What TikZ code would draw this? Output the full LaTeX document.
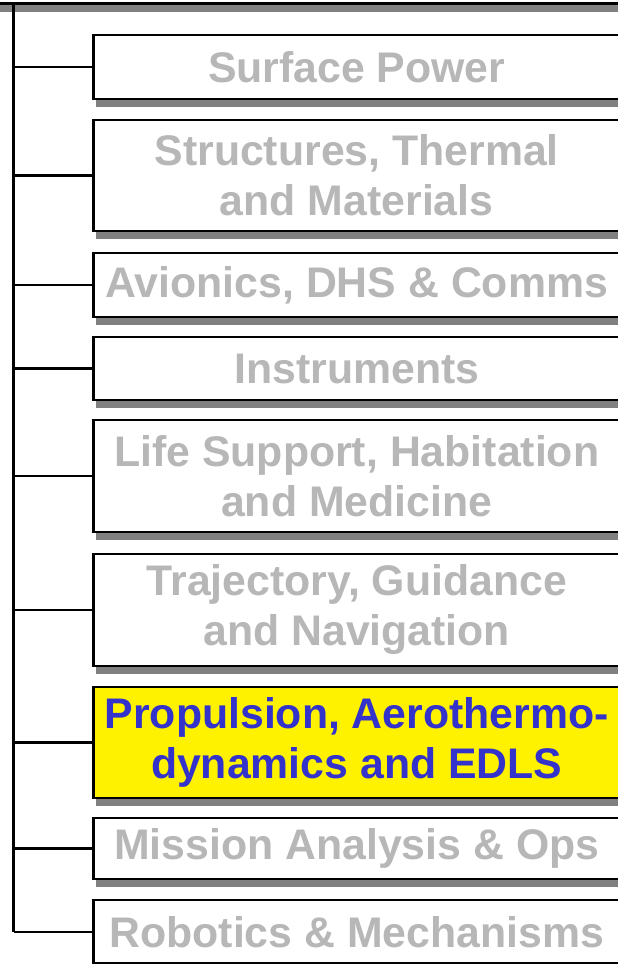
\documentclass[tikz,border=0pt]{standalone}
\usepackage{fontspec}
\setmainfont{Liberation Sans}
\usetikzlibrary{shadows}
\definecolor{txtgray}{RGB}{183,183,183}
\definecolor{shadowgray}{RGB}{128,128,128}
\definecolor{hiblue}{RGB}{51,51,204}
\begin{document}
\begin{tikzpicture}[x=1pt,y=-1pt,
  unit/.style={draw=black, line width=2.4pt, fill=white, rectangle, inner sep=0pt, outer sep=0pt,
    anchor=north west, minimum width=526.5pt, align=center, text=txtgray,
    font=\fontsize{42.8}{50}\selectfont\bfseries,
    drop shadow={shadow xshift=2pt, shadow yshift=-8pt, fill=shadowgray, opacity=1}},
  hilite/.style={fill=yellow, text=hiblue},
  link/.style={draw=black, line width=2.2pt}]
\useasboundingbox (0,0) rectangle (618,964);
\clip (0,0) rectangle (618,964);

\node[unit, minimum width=700pt, minimum height=100pt, anchor=south west] (top) at (-40,3.5) {};

\node[unit, minimum height=64pt]  (b1) at (93.5,35)  {Surface Power};
\node[unit, minimum height=111pt] (b2) at (93.5,120) {Structures, Thermal\\and Materials};
\node[unit, minimum height=64pt]  (b3) at (93.5,253) {Avionics, DHS \& Comms};
\node[unit, minimum height=63pt]  (b4) at (93.5,337) {Instruments};
\node[unit, minimum height=112pt] (b5) at (93.5,420) {Life Support, Habitation\\and Medicine};
\node[unit, minimum height=112pt] (b6) at (93.5,554) {Trajectory, Guidance\\and Navigation};
\node[unit, hilite, minimum height=111pt] (b7) at (93.5,687) {Propulsion, Aerothermo-\\dynamics and EDLS};
\node[unit, minimum height=61pt]  (b8) at (93.5,818) {Mission Analysis \& Ops};
\node[unit, minimum height=63.5pt] (b9) at (93.5,900) {Robotics \& Mechanisms};

\coordinate (trtop) at (13.5,3.5);
\coordinate (trbot) at (13.5,932);
\draw[link, line width=2.8pt] (trtop) -- (trtop |- b8.west);
\draw[link] (trtop |- b8.west) -- (trbot);
\foreach \b in {b1,b2,b3,b4,b5,b6,b7,b8,b9}
  \draw[link] (trtop |- \b.west) -- (\b.west);
\end{tikzpicture}
\end{document}
